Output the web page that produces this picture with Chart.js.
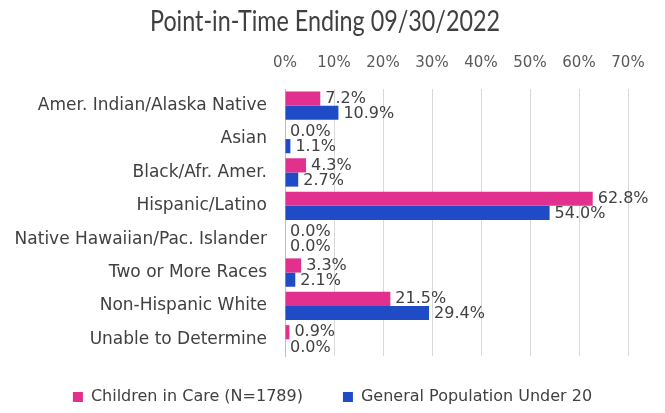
<!DOCTYPE html>
<html>
<head>
<meta charset="utf-8">
<script src="https://cdn.jsdelivr.net/npm/chart.js@4"></script>
<style>
  html, body { margin: 0; padding: 0; background: #fff; }
  #wrap { width: 665px; height: 413px; }
</style>
</head>
<body>
<div id="wrap"><canvas id="raceChart" width="665" height="413"></canvas></div>
<script>
// ===== DATA =====
const categories = [
    'Amer. Indian/Alaska Native',
    'Asian',
    'Black/Afr. Amer.',
    'Hispanic/Latino',
    'Native Hawaiian/Pac. Islander',
    'Two or More Races',
    'Non-Hispanic White',
    'Unable to Determine'
];
const childrenInCare = [7.2, 0.0, 4.3, 62.8, 0.0, 3.3, 21.5, 0.9];
const generalPopulation = [10.9, 1.1, 2.7, 54.0, 0.0, 2.1, 29.4, 0.0];
const seriesNames = ['Children in Care (N=1789)', 'General Population Under 20'];
const tickValues = [0, 10, 20, 30, 40, 50, 60, 70];
const chartTitle = 'Point-in-Time Ending 09/30/2022';

const PINK = '#e2308e';
const BLUE = '#1f4bc6';
const FONT = '"DejaVu Sans", Verdana, sans-serif';

// condensed title drawn on the canvas (space reserved with layout padding)
const condensedTitle = {
    id: 'condensedTitle',
    afterDraw(chart) {
        const c = chart.ctx;
        c.save();
        c.font = '29px Lato, sans-serif';
        c.fillStyle = '#404040';
        c.textAlign = 'center';
        c.textBaseline = 'middle';
        const w = c.measureText(chartTitle).width;
        c.translate(325, 22);
        c.scale(350 / w, 1);
        c.fillText(chartTitle, 0, 0);
        c.restore();
    }
};

// nudge the legend row into place after layout
const legendPlacement = {
    id: 'legendPlacement',
    afterLayout(chart) {
        const lg = chart.legend;
        if (!lg) return;
        lg.left = 14;
        lg.right = 651;
        lg.top -= 7;
        lg.bottom -= 7;
    }
};

// value labels next to the bar ends
const barLabels = {
    id: 'barLabels',
    afterDatasetsDraw(chart) {
        const c = chart.ctx;
        c.save();
        c.font = '16px ' + FONT;
        c.fillStyle = '#404040';
        c.textBaseline = 'middle';
        c.textAlign = 'left';
        chart.data.datasets.forEach(function(ds, i) {
            const meta = chart.getDatasetMeta(i);
            meta.data.forEach(function(bar, j) {
                const shift = i === 0 ? 0 : 1;
                c.fillText(ds.data[j].toFixed(1) + '%', bar.x + 5, bar.y + shift);
            });
        });
        c.restore();
    }
};

new Chart(document.getElementById('raceChart'), {
    type: 'bar',
    data: {
        labels: categories,
        datasets: [
            { label: seriesNames[0], data: childrenInCare, backgroundColor: PINK },
            { label: seriesNames[1], data: generalPopulation, backgroundColor: BLUE }
        ]
    },
    options: {
        indexAxis: 'y',
        responsive: false,
        animation: false,
        layout: { padding: { left: 0, right: 37, top: 40, bottom: 0 } },
        datasets: {
            bar: { categoryPercentage: 0.85, barPercentage: 1.0 }
        },
        plugins: {
            title: { display: false },
            legend: {
                position: 'bottom',
                maxHeight: 57,
                labels: {
                    color: '#404040',
                    font: { family: FONT, size: 16 },
                    boxWidth: 10,
                    boxHeight: 10,
                    padding: 40
                }
            },
            tooltip: { enabled: false }
        },
        scales: {
            x: {
                position: 'top',
                min: 0,
                max: 70,
                afterFit: function(scale) { scale.height = 49; },
                afterBuildTicks: function(scale) {
                    scale.ticks = tickValues.map(function(v) { return { value: v }; });
                },
                ticks: {
                    color: '#595959',
                    font: { family: FONT, size: 15 },
                    padding: 17,
                    callback: function(value) { return value + '%'; }
                },
                grid: { color: '#d9d9d9', drawTicks: false },
                border: { display: false }
            },
            y: {
                afterFit: function(scale) { scale.width = 285; },
                ticks: {
                    color: '#404040',
                    font: { family: FONT, size: 17 },
                    padding: 10
                },
                grid: { display: false },
                border: { display: true, color: '#bfbfbf' }
            }
        }
    },
    plugins: [barLabels, condensedTitle, legendPlacement]
});
</script>
</body>
</html>
